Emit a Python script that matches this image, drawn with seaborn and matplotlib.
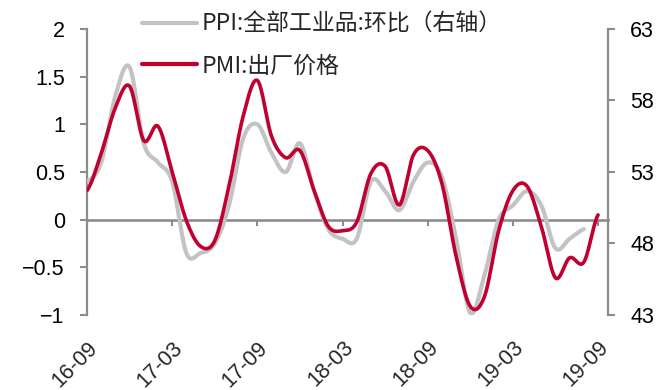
import numpy as np
import pandas as pd
import matplotlib
matplotlib.use("Agg")
import matplotlib.pyplot as plt
import seaborn as sns

# ---------------- data ----------------
months = ["16-09", "16-10", "16-11", "16-12", "17-01", "17-02", "17-03", "17-04", "17-05",
          "17-06", "17-07", "17-08", "17-09", "17-10", "17-11", "17-12", "18-01", "18-02",
          "18-03", "18-04", "18-05", "18-06", "18-07", "18-08", "18-09", "18-10", "18-11",
          "18-12", "19-01", "19-02", "19-03", "19-04", "19-05", "19-06", "19-07", "19-08",
          "19-09"]
ppi_mom = [0.4, 0.6, 1.3, 1.6, 0.8, 0.6, 0.4, -0.35, -0.35, -0.25, 0.15, 0.85, 1.0, 0.7,
           0.5, 0.8, 0.3, -0.1, -0.2, -0.2, 0.4, 0.3, 0.1, 0.4, 0.6, 0.45, -0.2, -0.98,
           -0.58, 0.0, 0.15, 0.3, 0.15, -0.3, -0.2, -0.1]
pmi_price = [51.7, 54.3, 57.5, 59.0, 55.2, 56.2, 53.0, 49.6, 47.8, 48.2, 52.0, 56.9, 59.4,
             55.5, 54.0, 54.5, 51.7, 49.2, 48.9, 49.5, 52.9, 53.4, 50.7, 54.2, 54.5, 52.2,
             47.1, 43.6, 44.3, 48.9, 51.7, 52.0, 49.2, 45.6, 47.0, 46.7, 50.0]
label_ppi = "PPI:全部工业品:环比（右轴）"
label_pmi = "PMI:出厂价格"
x_tick_labels = ["16-09", "17-03", "17-09", "18-03", "18-09", "19-03", "19-09"]
left_ticks = [-1, -0.5, 0, 0.5, 1, 1.5, 2]
left_tick_labels = ["\u22121", "\u22120.5", "0", "0.5", "1", "1.5", "2"]
right_ticks = [43, 48, 53, 58, 63]
right_tick_labels = ["43", "48", "53", "58", "63"]


def smooth_curve(values, n=24):
    """Cubic Hermite (Catmull-Rom) rendering of a monthly series, like a smoothed line."""
    y = np.asarray(values, float)
    N = len(y)
    tan = np.empty(N)
    tan[1:-1] = (y[2:] - y[:-2]) / 2.0
    tan[0] = (y[1] - y[0]) / 2.0
    tan[-1] = (y[-1] - y[-2]) / 2.0
    xs, ys = [], []
    s = np.linspace(0, 1, n, endpoint=False)
    h00 = 2 * s**3 - 3 * s**2 + 1
    h10 = s**3 - 2 * s**2 + s
    h01 = -2 * s**3 + 3 * s**2
    h11 = s**3 - s**2
    for i in range(N - 1):
        xs.append(i + s)
        ys.append(h00 * y[i] + h10 * tan[i] + h01 * y[i + 1] + h11 * tan[i + 1])
    xs.append(np.array([N - 1.0]))
    ys.append(np.array([y[-1]]))
    return np.concatenate(xs), np.concatenate(ys)


x_ppi, y_ppi = smooth_curve(ppi_mom)
x_pmi, y_pmi = smooth_curve(pmi_price)
df_ppi = pd.DataFrame({"x": x_ppi, "y": y_ppi})
df_pmi = pd.DataFrame({"x": x_pmi, "y": y_pmi})

# ---------------- style ----------------
sns.set_theme(style="white")
plt.rcParams["font.family"] = ["Liberation Sans", "Noto Sans CJK SC", "DejaVu Sans"]
plt.rcParams["axes.unicode_minus"] = True

GRAY_AX = "#8c8c8c"
GRAY_LINE = "#c3c3c3"
RED = "#c0002f"

fig = plt.figure(figsize=(6.61, 3.90), dpi=100)
fig.subplots_adjust(left=87 / 661, right=608 / 661, top=1 - 29 / 390, bottom=1 - 315 / 390)
ax = fig.add_subplot(111)
ax2 = ax.twinx()

sns.lineplot(data=df_ppi, x="x", y="y", ax=ax, color=GRAY_LINE, linewidth=3.0,
             label=label_ppi, sort=False, estimator=None, zorder=3)
sns.lineplot(data=df_pmi, x="x", y="y", ax=ax2, color=RED, linewidth=2.6,
             label=label_pmi, sort=False, estimator=None, zorder=3)
for a in (ax, ax2):
    if a.get_legend() is not None:
        a.get_legend().remove()

ax.set_xlim(0, 36.7)
ax.set_ylim(-1, 2)
ax2.set_ylim(43, 63)

# left axis
ax.set_yticks(left_ticks)
ax.set_yticklabels(left_tick_labels)
ax.tick_params(axis="y", direction="out", length=5, width=1.5, color=GRAY_AX,
               pad=11, labelsize=15.5, labelcolor="black", left=True)
# right axis
ax2.set_yticks(right_ticks)
ax2.set_yticklabels(right_tick_labels)
ax2.tick_params(axis="y", direction="out", length=5, width=1.5, color=GRAY_AX,
                pad=11, labelsize=15.5, labelcolor="black", right=True)

# spines
for sp in ("top", "right"):
    ax.spines[sp].set_visible(False)
for sp in ("top", "left", "bottom"):
    ax2.spines[sp].set_visible(False)
ax.spines["left"].set_color(GRAY_AX)
ax.spines["left"].set_linewidth(1.6)
ax2.spines["right"].set_color(GRAY_AX)
ax2.spines["right"].set_linewidth(1.6)
ax.spines["bottom"].set_position(("data", 0))
ax.spines["bottom"].set_color(GRAY_AX)
ax.spines["bottom"].set_linewidth(1.9)

# x ticks on the zero line, labels at bottom
tick_pos = [months.index(m) for m in x_tick_labels]
ax.set_xticks(tick_pos)
ax.tick_params(axis="x", direction="out", length=4, width=1.5, color=GRAY_AX,
               labelbottom=False, bottom=True)
sec = ax.secondary_xaxis(0)
sec.set_xticks(tick_pos)
sec.set_xticklabels(x_tick_labels)
sec.tick_params(axis="x", length=0, pad=16, labelsize=15.5)
sec.spines["bottom"].set_visible(False)
for lab in sec.get_xticklabels():
    lab.set_rotation(45)
    lab.set_rotation_mode("anchor")
    lab.set_ha("right")
    lab.set_va("top")

ax.set_xlabel("")
ax.set_ylabel("")
ax2.set_ylabel("")
ax.grid(False)
ax2.grid(False)

# legend
h1, l1 = ax.get_legend_handles_labels()
h2, l2 = ax2.get_legend_handles_labels()
leg = ax2.legend(h1 + h2, l1 + l2, loc="upper left",
                 bbox_to_anchor=(142 / 661, 1 - 13 / 390), bbox_transform=fig.transFigure,
                 frameon=False, borderpad=0, borderaxespad=0, handlelength=2.4,
                 handletextpad=0.2, labelspacing=0.8,
                 prop={"family": ["Noto Sans CJK SC", "DejaVu Sans"], "size": 16.5})
for line in leg.get_lines():
    line.set_linewidth(3.0)

fig.savefig("out.png", dpi=100)
